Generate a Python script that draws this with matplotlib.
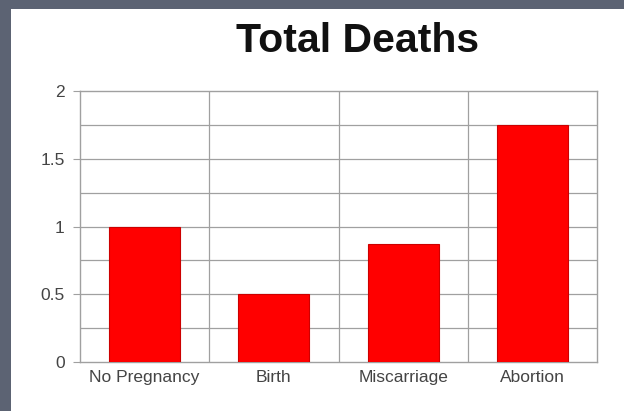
import matplotlib.pyplot as plt
from matplotlib.patches import Rectangle

categories = ["No Pregnancy", "Birth", "Miscarriage", "Abortion"]
deaths = [1.0, 0.5, 0.87, 1.75]
y_ticks = [0, 0.5, 1, 1.5, 2]
y_tick_labels = ["0", "0.5", "1", "1.5", "2"]

plt.rcParams["font.family"] = ["Liberation Sans", "DejaVu Sans"]

fig = plt.figure(figsize=(6.24, 4.11), dpi=100, facecolor="#5c6373")
# white panel inside the dark frame
fig.patches.append(Rectangle((11 / 624, 0), 1, (411 - 9) / 411, transform=fig.transFigure,
                             facecolor="white", edgecolor="none", zorder=-1))

ax = fig.add_axes([80 / 624, (411 - 362) / 411, (597 - 80) / 624, (362 - 91) / 411])
ax.set_facecolor("white")

x = list(range(len(categories)))
ax.bar(x, deaths, width=0.55, color="#ff0000", edgecolor="#cc0000", linewidth=0.8, zorder=3)

ax.set_xlim(-0.5, len(categories) - 0.5)
ax.set_ylim(0, 2)
ax.set_yticks(y_ticks)
ax.set_yticklabels(y_tick_labels)
ax.set_yticks([0.25, 0.75, 1.25, 1.75], minor=True)
ax.set_xticks(x)
ax.set_xticklabels(categories)

# grid: horizontal every 0.25, vertical between categories
for y in [0.25, 0.5, 0.75, 1, 1.25, 1.5, 1.75]:
    ax.axhline(y, color="#a0a0a0", linewidth=0.9, zorder=1)
for xv in [0.5, 1.5, 2.5]:
    ax.axvline(xv, color="#a0a0a0", linewidth=0.9, zorder=1)

for s in ax.spines.values():
    s.set_color("#a0a0a0")
    s.set_linewidth(1.0)

ax.tick_params(axis="y", which="major", length=5, color="#a0a0a0", labelsize=12.5,
               labelcolor="#444444", pad=6)
ax.tick_params(axis="y", which="minor", length=0)
ax.tick_params(axis="x", length=0, labelsize=12.5, labelcolor="#444444", pad=6)

fig.text(357 / 624, 1 - 41 / 411, "Total Deaths", ha="center", va="center",
         fontsize=29.5, fontweight="bold", color="#111111")

fig.savefig("out.png", dpi=100, facecolor=fig.get_facecolor())
